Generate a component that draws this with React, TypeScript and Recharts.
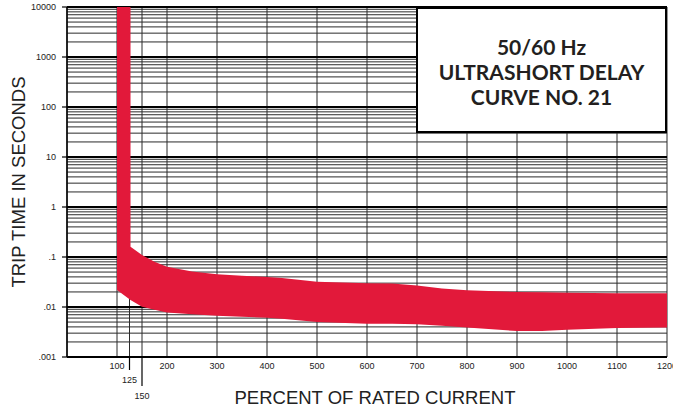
import React from 'react';
import { ComposedChart, Area, XAxis, YAxis, CartesianGrid } from 'recharts';

// Percent of rated current (x) for points along the trip band
const currentPct = [100, 127, 127, 150, 175, 200, 250, 300, 350, 400, 430, 500, 600, 650, 700, 750, 800, 900, 950, 1000, 1100, 1200];
// Upper edge of the band (maximum trip time, seconds)
const tripMax = [10000, 10000, 0.16, 0.11, 0.08, 0.064, 0.051, 0.045, 0.042, 0.04, 0.038, 0.032, 0.03, 0.0295, 0.027, 0.0235, 0.0216, 0.02, 0.0197, 0.0193, 0.0188, 0.0188];
// Lower edge of the band (minimum trip time, seconds)
const tripMin = [0.022, 0.0138, 0.0138, 0.0101, 0.0088, 0.0078, 0.0072, 0.0067, 0.0064, 0.0061, 0.0058, 0.005, 0.0046, 0.0046, 0.0045, 0.0042, 0.0039, 0.0033, 0.0033, 0.0035, 0.0038, 0.0039];

const xTicks = [100, 125, 150, 200, 300, 400, 500, 600, 700, 800, 900, 1000, 1100, 1200];
const decadeTicks = [0.001, 0.01, 0.1, 1, 10, 100, 1000, 10000];
const minorMultipliers = [2, 3, 4, 5, 6, 7, 8, 9];
const yTicks = decadeTicks.flatMap((d) =>
  d < 10000 ? [d, ...minorMultipliers.map((m) => +(d * m).toPrecision(3))] : [d]
);

const titleLines = ['50/60 Hz', 'ULTRASHORT DELAY', 'CURVE NO. 21'];
const xTitle = 'PERCENT OF RATED CURRENT';
const yTitle = 'TRIP TIME IN SECONDS';

const data = currentPct.map((pct, i) => ({ pct, range: [tripMin[i], tripMax[i]] }));

const BAND_RED = '#E2193A';
const FONT = '"Liberation Sans", Arial, Helvetica, sans-serif';

const fmtY = (v: number) => (v >= 1 ? String(v) : String(v).replace(/^0/, ''));

const XTick = (props: any) => {
  const { x, y, payload } = props;
  const v = payload.value;
  const drop = v === 125 ? 13 : v === 150 ? 29 : 0;
  return (
    <g>
      {drop > 0 && <line x1={x} x2={x} y1={y} y2={y + drop} stroke="#000" strokeWidth={1.2} />}
      <text x={x} y={y + (drop ? drop + 10 : 9)} textAnchor="middle" dy="0.35em" fontSize={9} fill="#222" fontFamily={FONT}>
        {v}
      </text>
    </g>
  );
};

const YTick = (props: any) => {
  const { x, y, payload } = props;
  const v = payload.value;
  if (!decadeTicks.includes(v)) return <g />;
  return (
    <g>
      <line x1={x - 5} x2={x} y1={y} y2={y} stroke="#000" strokeWidth={1.2} />
      <text x={x - 11} y={y} textAnchor="end" dy="0.35em" fontSize={9} fill="#222" fontFamily={FONT}>
        {fmtY(v)}
      </text>
    </g>
  );
};

export default function App() {
  return (
    <div style={{ position: 'absolute', left: 0, top: 0, width: 673, height: 412, background: '#fff', fontFamily: FONT }}>
      <ComposedChart width={673} height={412} data={data} margin={{ top: 7, right: 6, bottom: 0, left: 0 }}>
        <CartesianGrid stroke="#2a2a2a" strokeWidth={1} />
        <CartesianGrid stroke="#000" strokeWidth={2} horizontalValues={decadeTicks} vertical={false} />
        <XAxis
          dataKey="pct"
          type="number"
          domain={[0, 1200]}
          ticks={xTicks}
          interval={0}
          tickSize={0}
          tickMargin={0}
          tick={<XTick />}
          height={55}
          axisLine={{ stroke: '#000', strokeWidth: 1.5 }}
          allowDataOverflow
        />
        <YAxis
          type="number"
          scale="log"
          domain={[0.001, 10000]}
          ticks={yTicks}
          interval={0}
          tickSize={0}
          tickMargin={0}
          tick={<YTick />}
          width={67}
          axisLine={{ stroke: '#000', strokeWidth: 1.5 }}
          allowDataOverflow
        />
        <Area
          dataKey="range"
          type="linear"
          fill={BAND_RED}
          fillOpacity={1}
          stroke="none"
          isAnimationActive={false}
        />
      </ComposedChart>

      <div
        style={{
          position: 'absolute',
          left: 416,
          top: 7,
          width: 251,
          height: 126,
          boxSizing: 'border-box',
          border: '2px solid #000',
          background: '#fff',
          display: 'flex',
          flexDirection: 'column',
          alignItems: 'center',
          justifyContent: 'center',
          paddingTop: 2,
          fontFamily: 'Lato, "Open Sans", sans-serif',
          fontWeight: 700,
          fontSize: 21,
          lineHeight: '25px',
          color: '#231f20',
        }}
      >
        {titleLines.map((t) => (
          <div key={t}>{t}</div>
        ))}
      </div>

      <div
        style={{
          position: 'absolute',
          left: 18.5,
          top: 182,
          transform: 'translate(-50%, -50%) rotate(-90deg)',
          whiteSpace: 'nowrap',
          fontSize: 18.5,
          lineHeight: '20px',
          color: '#222',
        }}
      >
        {yTitle}
      </div>
      <div
        style={{
          position: 'absolute',
          left: 375,
          top: 398,
          transform: 'translate(-50%, -50%)',
          whiteSpace: 'nowrap',
          fontSize: 18.5,
          lineHeight: '20px',
          color: '#222',
        }}
      >
        {xTitle}
      </div>
    </div>
  );
}
